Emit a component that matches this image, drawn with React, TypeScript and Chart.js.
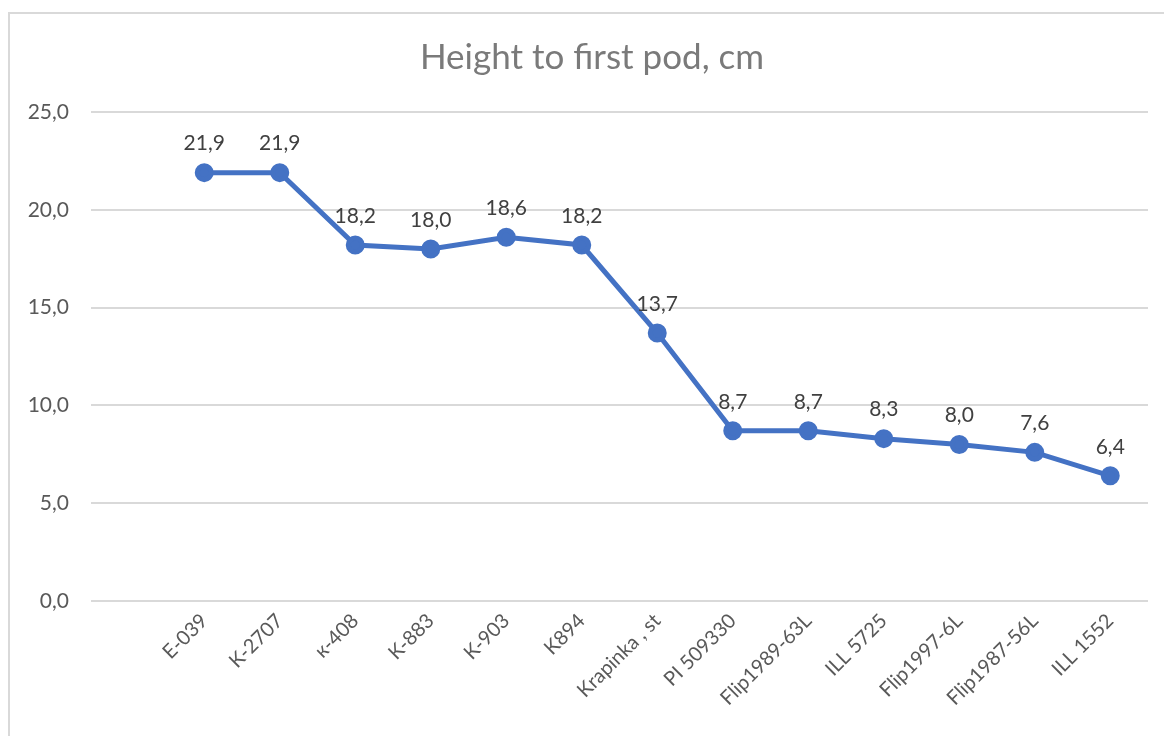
import React, { useEffect, useRef } from "react";
import { Chart, registerables } from "chart.js";

Chart.register(...registerables);

const categories = [
  "E-039", "K-2707", "к-408", "K-883", "K-903", "K894", "Krapinka , st",
  "PI 509330", "Flip1989-63L", "ILL 5725", "Flip1997-6L", "Flip1987-56L", "ILL 1552",
];
const values = [21.9, 21.9, 18.2, 18.0, 18.6, 18.2, 13.7, 8.7, 8.7, 8.3, 8.0, 7.6, 6.4];
const yTicks = [0, 5, 10, 15, 20, 25];
const titleText = "Height to first pod, cm";

const FONT = "Lato, 'Open Sans', sans-serif";
const fmt = (v: number) => v.toFixed(1).replace(".", ",");

export default function App() {
  const ref = useRef<HTMLCanvasElement | null>(null);

  useEffect(() => {
    document.body.style.margin = "0";
    const canvas = ref.current;
    if (!canvas) return;

    const labelPlugin = {
      id: "labelsAndTitle",
      afterDatasetsDraw(chart: any) {
        const ctx = chart.ctx;
        const meta = chart.getDatasetMeta(0);
        ctx.save();
        ctx.font = `21px ${FONT}`;
        ctx.fillStyle = "#404040";
        ctx.textAlign = "center";
        ctx.textBaseline = "middle";
        meta.data.forEach((pt: any, i: number) => {
          ctx.fillText(fmt(values[i]), pt.x, pt.y - 29);
        });
        ctx.font = `35px ${FONT}`;
        ctx.fillStyle = "#7a7a7a";
        ctx.fillText(titleText, 592, 58);
        ctx.restore();
      },
    };

    const chart = new Chart(canvas, {
      type: "line",
      data: {
        datasets: [
          {
            data: values.map((v, i) => ({ x: i, y: v })),
            borderColor: "#4472C4",
            backgroundColor: "#4472C4",
            borderWidth: 5,
            pointRadius: 7,
            pointHoverRadius: 7,
            pointBackgroundColor: "#4472C4",
            pointBorderColor: "#4472C4",
            tension: 0,
          },
        ],
      },
      options: {
        animation: false,
        responsive: false,
        maintainAspectRatio: false,
        layout: { padding: { top: 112, right: 16, left: 0, bottom: 0 } },
        plugins: {
          legend: { display: false },
          title: { display: false },
          tooltip: { enabled: false },
        },
        scales: {
          x: {
            type: "linear",
            min: -1.5,
            max: 12.5,
            grid: { display: false, drawTicks: false },
            border: { display: false },
            afterBuildTicks: (scale: any) => {
              scale.ticks = categories.map((_, i) => ({ value: i }));
            },
            afterFit: (scale: any) => {
              scale.height = 135;
            },
            ticks: {
              autoSkip: false,
              maxRotation: 45,
              minRotation: 45,
              padding: 8,
              color: "#595959",
              font: { family: FONT, size: 20 },
              callback: (v: any) => categories[v as number] ?? "",
            },
          },
          y: {
            min: 0,
            max: 25,
            afterBuildTicks: (scale: any) => {
              scale.ticks = yTicks.map((v) => ({ value: v }));
            },
            afterFit: (scale: any) => {
              scale.width = 91;
            },
            grid: { color: "#d9d9d9", lineWidth: 2, drawTicks: false },
            border: { display: false },
            ticks: {
              padding: 22,
              color: "#595959",
              font: { family: FONT, size: 21 },
              callback: (v: any) => fmt(Number(v)),
            },
          },
        },
      },
      plugins: [labelPlugin],
    } as any);

    return () => chart.destroy();
  }, []);

  return (
    <div style={{ position: "relative", width: 1164, height: 736, overflow: "hidden", background: "#fff" }}>
      <div
        style={{
          position: "absolute",
          left: 8,
          top: 12,
          width: 1200,
          height: 800,
          border: "2px solid #d9d9d9",
          boxSizing: "border-box",
        }}
      />
      <canvas ref={ref} width={1164} height={736} style={{ position: "absolute", left: 0, top: 0 }} />
    </div>
  );
}
